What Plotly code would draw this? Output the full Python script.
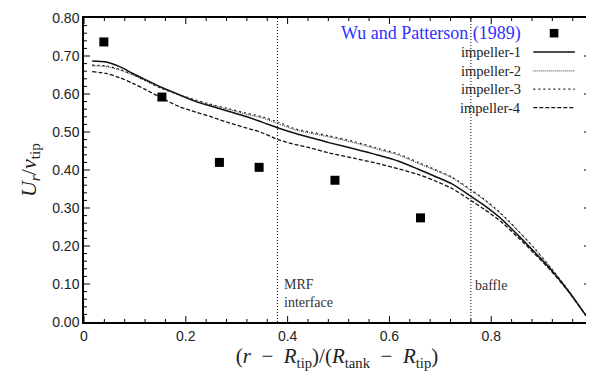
import plotly.graph_objects as go

# ---------------- data ----------------
exp_x = [0.039, 0.153, 0.266, 0.344, 0.493, 0.661]
exp_y = [0.737, 0.592, 0.420, 0.407, 0.373, 0.274]

curve_x = [0.016, 0.044, 0.070, 0.096, 0.122, 0.153, 0.187, 0.220, 0.252, 0.285,
           0.318, 0.350, 0.383, 0.416, 0.448, 0.481, 0.530, 0.578, 0.618, 0.657,
           0.690, 0.722, 0.761, 0.787, 0.820, 0.853, 0.885, 0.918, 0.950, 0.986]
imp1 = [0.687, 0.684, 0.672, 0.654, 0.637, 0.617, 0.598, 0.580, 0.567, 0.554,
        0.541, 0.526, 0.510, 0.496, 0.484, 0.472, 0.456, 0.439, 0.423, 0.402,
        0.383, 0.364, 0.330, 0.306, 0.271, 0.228, 0.184, 0.137, 0.084, 0.017]
imp2 = [0.674, 0.672, 0.663, 0.650, 0.634, 0.615, 0.598, 0.582, 0.570, 0.559,
        0.547, 0.537, 0.521, 0.505, 0.496, 0.487, 0.472, 0.454, 0.439, 0.417,
        0.399, 0.380, 0.345, 0.320, 0.283, 0.239, 0.193, 0.141, 0.086, 0.017]
imp3 = [0.676, 0.674, 0.665, 0.651, 0.634, 0.614, 0.598, 0.584, 0.572, 0.561,
        0.550, 0.540, 0.525, 0.508, 0.499, 0.490, 0.475, 0.457, 0.442, 0.420,
        0.401, 0.382, 0.347, 0.322, 0.285, 0.240, 0.194, 0.141, 0.086, 0.017]
imp4 = [0.659, 0.654, 0.643, 0.628, 0.611, 0.589, 0.567, 0.552, 0.539, 0.524,
        0.511, 0.498, 0.479, 0.467, 0.457, 0.445, 0.431, 0.417, 0.403, 0.388,
        0.371, 0.352, 0.319, 0.296, 0.263, 0.222, 0.180, 0.134, 0.083, 0.017]

series_names = ["impeller-1", "impeller-2", "impeller-3", "impeller-4"]
exp_name = "Wu and Patterson (1989)"

mrf_x = 0.38
baffle_x = 0.76

x_range = [0, 0.994]
y_range = [0, 0.8]
x_dtick = 0.2
y_dtick = 0.1
# tick-mark positions (major every 0.2 / 0.1, minor every 0.04 / 0.02)
x_major_ticks = [round(0.2 * i, 2) for i in range(0, 5)]
x_minor_ticks = [round(0.04 * i, 2) for i in range(1, 25) if i % 5]
y_major_ticks = [round(0.1 * i, 2) for i in range(1, 8)]
y_minor_ticks = [round(0.02 * i, 2) for i in range(1, 40) if i % 5]

# ---------------- styles ----------------
serif = "Liberation Serif"
sans = "Liberation Sans"
styles = [
    dict(color="#111111", width=1.5, dash="solid"),
    dict(color="#333333", width=1.0, dash="1px,1px"),
    dict(color="#222222", width=1.2, dash="2px,3px"),
    dict(color="#111111", width=1.3, dash="4px,2px"),
]

fig = go.Figure()
for name, ys, st in zip(series_names, [imp1, imp2, imp3, imp4], styles):
    fig.add_trace(go.Scatter(x=curve_x, y=ys, mode="lines", name=name,
                             line=dict(shape="spline", smoothing=0.8, **st),
                             showlegend=False))
fig.add_trace(go.Scatter(x=exp_x, y=exp_y, mode="markers", name=exp_name,
                         marker=dict(symbol="square", size=9, color="black"),
                         showlegend=False))

# inside tick marks on all four sides (clipped to the plot area -> half length shows)
def tick_trace(xs, ys, symbol, size):
    return go.Scatter(x=xs, y=ys, mode="markers", hoverinfo="skip", showlegend=False,
                      cliponaxis=True,
                      marker=dict(symbol=symbol, size=size, color="black",
                                  line=dict(width=1, color="black")))

for ticks, size in [(x_major_ticks, 8.6), (x_minor_ticks, 4.3)]:
    fig.add_trace(tick_trace(ticks + ticks,
                             [y_range[0]] * len(ticks) + [y_range[1]] * len(ticks),
                             "line-ns-open", size))
for ticks, size in [(y_major_ticks, 8.6), (y_minor_ticks, 4.3)]:
    fig.add_trace(tick_trace([x_range[0]] * len(ticks) + [x_range[1]] * len(ticks),
                             ticks + ticks, "line-ew-open", size))

# vertical dotted lines
for xv in [mrf_x, baffle_x]:
    fig.add_shape(type="line", xref="x", yref="paper", x0=xv, x1=xv, y0=0, y1=1,
                  line=dict(color="black", width=1, dash="1px,2px"))

fig.add_annotation(x=mrf_x, y=0.076, xref="x", yref="y", text="MRF<br>interface",
                   showarrow=False, xanchor="left", yanchor="middle", align="left",
                   xshift=5, font=dict(family=serif, size=14, color="#333"))
fig.add_annotation(x=baffle_x, y=0.097, xref="x", yref="y", text="baffle",
                   showarrow=False, xanchor="left", yanchor="middle", align="left",
                   xshift=2, font=dict(family=serif, size=14, color="#333"))

# custom legend (symbols on the right, as in the reference)
leg_text_x = 0.868
leg_ys = [0.888, 0.826, 0.766, 0.705]
fig.add_annotation(x=leg_text_x, y=0.950, xref="paper", yref="paper", text=exp_name,
                   showarrow=False, xanchor="right", yanchor="middle",
                   font=dict(family=serif, size=18, color="#3030ff"))
fig.add_shape(type="rect", xref="paper", yref="paper",
              x0=0.929 - 0.0085, x1=0.929 + 0.0085, y0=0.950 - 0.014, y1=0.950 + 0.014,
              fillcolor="black", line=dict(width=0))
for name, ly, st in zip(series_names, leg_ys, styles):
    fig.add_annotation(x=leg_text_x, y=ly, xref="paper", yref="paper", text=name,
                       showarrow=False, xanchor="right", yanchor="middle",
                       font=dict(family=serif, size=14.5, color="#222"))
    fig.add_shape(type="line", xref="paper", yref="paper", x0=0.888, x1=0.970,
                  y0=ly, y1=ly, line=st)

axis_common = dict(showline=True, linecolor="black", linewidth=1.5, mirror=True,
                   ticks="", showgrid=False, zeroline=False, ticklabeloverflow="allow",
                   tickfont=dict(family=sans, size=14, color="#222"))

sp = "&nbsp;"
fig.update_xaxes(range=x_range, tickmode="linear", tick0=0, dtick=x_dtick,
                 title=dict(text=f"(<i>r</i>{sp}{sp}−{sp}{sp}<i>R</i><sub>tip</sub>)/(<i>R</i><sub>tank</sub>{sp}{sp}−{sp}{sp}<i>R</i><sub>tip</sub>)",
                            font=dict(family=serif, size=21, color="#222"), standoff=6),
                 **axis_common)
fig.update_yaxes(range=y_range, tickmode="linear", tick0=0, dtick=y_dtick,
                 tickformat=".2f",
                 title=dict(text="<i>U<sub>r</sub></i>/<i>v</i><sub>tip</sub>",
                            font=dict(family=serif, size=22, color="#222"), standoff=10),
                 **axis_common)

fig.update_layout(width=586, height=370, margin=dict(l=76, r=2, t=8, b=56),
                  paper_bgcolor="white", plot_bgcolor="white", showlegend=False)

fig.write_html("out.html")
